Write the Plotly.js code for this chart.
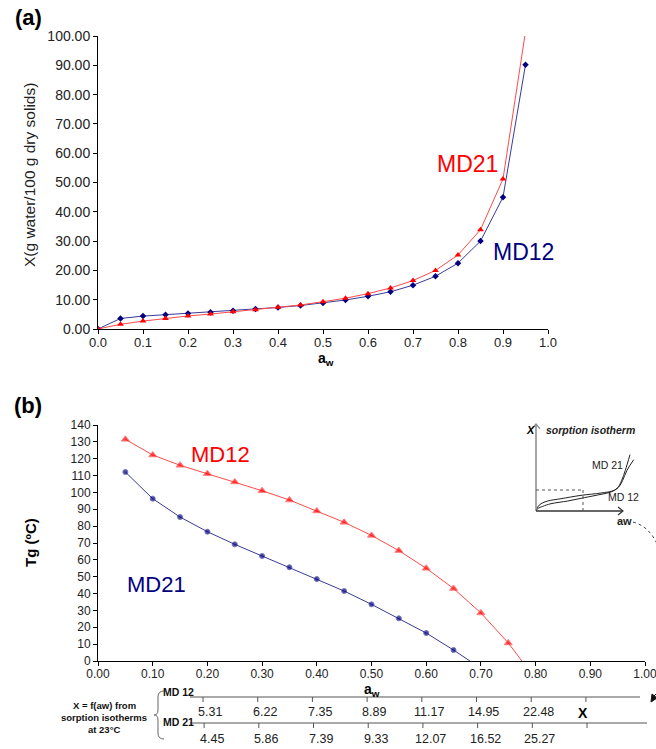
<!DOCTYPE html>
<html>
<head>
<meta charset="utf-8">
<script src="https://cdn.plot.ly/plotly-3.0.1.min.js"></script>
<style>html,body{margin:0;padding:0;background:#fff;}#chart{width:656px;height:749px;}</style>
</head>
<body>
<div id="chart"></div>
<script>
// ---------- Panel (a): sorption isotherms ----------
const awA = [0,0.05,0.10,0.15,0.20,0.25,0.30,0.35,0.40,0.45,0.50,0.55,0.60,0.65,0.70,0.75,0.80,0.85,0.90,0.95];
const xMD12 = [0,3.6,4.4,4.9,5.31,5.7,6.22,6.8,7.35,8.0,8.89,9.9,11.17,12.7,14.95,18.0,22.48,30.0,45.0,90.2];
const xMD21 = [0,1.6,2.7,3.6,4.45,5.1,5.86,6.6,7.39,8.2,9.33,10.5,12.07,14.0,16.52,20.0,25.27,33.9,51.2,101.5];
const xTicksA = [0,10,20,30,40,50,60,70,80,90,100];
const awTicksA = [0,0.1,0.2,0.3,0.4,0.5,0.6,0.7,0.8,0.9,1.0];

// ---------- Panel (b): glass transition ----------
const awB12 = [0.05,0.10,0.15,0.20,0.25,0.30,0.35,0.40,0.45,0.50,0.55,0.60,0.65,0.70,0.75,0.775];
const tgMD12 = [131.5,122.2,116.1,111.1,106.2,101.0,95.5,89.0,82.3,74.5,65.5,55.0,43.0,28.5,10.7,0];
const awB21 = [0.05,0.10,0.15,0.20,0.25,0.30,0.35,0.40,0.45,0.50,0.55,0.60,0.65,0.68];
const tgMD21 = [112.1,96.3,85.4,76.7,69.2,62.3,55.6,48.6,41.5,33.6,25.3,16.6,6.5,0];
const awTicksB = [0,0.1,0.2,0.3,0.4,0.5,0.6,0.7,0.8,0.9,1.0];
const tgTicksB = [0,10,20,30,40,50,60,70,80,90,100,110,120,130,140];

// ---------- Table under panel (b) ----------
const tableAw = [0.2,0.3,0.4,0.5,0.6,0.7,0.8];
const tableTickAw = [0.2,0.3,0.4,0.5,0.6,0.7,0.8,0.9];
const tableMD12 = ["5.31","6.22","7.35","8.89","11.17","14.95","22.48"];
const tableMD21 = ["4.45","5.86","7.39","9.33","12.07","16.52","25.27"];

// ---------- Inset schematic (inset units) ----------
const insetX12 = [0,0.017,0.05,0.117,0.25,0.45,0.65,0.783,0.833,0.867,0.91,0.977];
const insetY12 = [0,0.047,0.085,0.116,0.143,0.182,0.209,0.24,0.287,0.357,0.473,0.597];
const insetX21 = [0,0.017,0.067,0.15,0.317,0.483,0.65,0.75,0.817,0.857,0.893,0.94];
const insetY21 = [0,0.027,0.054,0.085,0.116,0.155,0.194,0.221,0.271,0.357,0.473,0.655];

const W = 656, H = 749;
const FONT = "Liberation Sans, Arial, sans-serif";
const px = x => x / W;
const py = y => 1 - y / H;

const NAVY = "#000080", NAVYL = "#3a3a9a", RED = "#ff0000", REDL = "#ff4a4a";

const traces = [
  {x: awA, y: xMD12, type: "scatter", mode: "lines+markers", xaxis: "x", yaxis: "y",
   line: {color: NAVYL, width: 1}, marker: {symbol: "diamond", size: 5, color: NAVY}, cliponaxis: true},
  {x: awA, y: xMD21, type: "scatter", mode: "lines+markers", xaxis: "x", yaxis: "y",
   line: {color: REDL, width: 1}, marker: {symbol: "triangle-up", size: 6, color: RED}, cliponaxis: true},
  {x: awB12, y: tgMD12, type: "scatter", mode: "lines+markers", xaxis: "x2", yaxis: "y2",
   line: {color: REDL, width: 1}, marker: {symbol: "triangle-up", size: awB12.map((v,i)=> i===awB12.length-1?0:7), color: RED}},
  {x: awB21, y: tgMD21, type: "scatter", mode: "lines+markers", xaxis: "x2", yaxis: "y2",
   line: {color: NAVYL, width: 1}, marker: {symbol: "circle", size: awB21.map((v,i)=> i===awB21.length-1?0:5), color: NAVY}},
  {x: insetX12, y: insetY12, type: "scatter", mode: "lines", xaxis: "x3", yaxis: "y3",
   line: {color: "#222", width: 1, shape: "spline"}},
  {x: insetX21, y: insetY21, type: "scatter", mode: "lines", xaxis: "x3", yaxis: "y3",
   line: {color: "#222", width: 1, shape: "spline"}}
];

const axCommon = {showline: true, linecolor: "#000", linewidth: 1, ticks: "outside", ticklen: 4,
  tickcolor: "#000", showgrid: false, zeroline: false, ticklabeloverflow: "allow",
  tickfont: {family: FONT, color: "#222"}};

const ann = [];
function A(text, x, y, o) {
  ann.push(Object.assign({text: text, x: px(x), y: py(y), xref: "paper", yref: "paper",
    showarrow: false, xanchor: "center", yanchor: "middle",
    font: {family: FONT, size: 12, color: "#000"}}, o || {}));
}
A("<b>(a)</b>", 28, 18, {font: {family: FONT, size: 22, color: "#000"}});
A("<b>(b)</b>", 28, 405, {font: {family: FONT, size: 22, color: "#000"}});
A("X(g water/100 g dry solids)", 29, 175, {textangle: -90, font: {family: FONT, size: 15.5, color: "#222"}});
A("<b>a<sub>w</sub></b>", 326, 359, {font: {family: FONT, size: 14, color: "#000"}});
A("MD21", 467, 164, {font: {family: FONT, size: 23, color: RED}});
A("MD12", 523, 252, {font: {family: FONT, size: 23, color: NAVY}});

A("<b>Tg (ºC)</b>", 30, 543, {textangle: -90, font: {family: FONT, size: 15, color: "#000"}});
A("<b>a<sub>w</sub></b>", 372, 690, {font: {family: FONT, size: 14, color: "#000"}});
A("MD12", 220, 454, {font: {family: FONT, size: 22, color: RED}});
A("MD21", 156, 584, {font: {family: FONT, size: 22, color: NAVY}});

// inset texts
A("<b><i>X</i></b>", 530, 430, {font: {family: FONT, size: 11, color: "#000"}});
A("<b><i>sorption isotherm</i></b>", 590, 430, {font: {family: FONT, size: 10.5, color: "#222"}});
A("MD 21", 607, 465, {font: {family: FONT, size: 10.5, color: "#222"}});
A("MD 12", 623, 497, {font: {family: FONT, size: 10.5, color: "#222"}});
A("<b>aw</b>", 624, 521, {font: {family: FONT, size: 11, color: "#222"}});

// table left texts
A("<b>X = f(aw) from</b>", 104, 705, {font: {family: FONT, size: 9.5, color: "#111"}});
A("<b>sorption isotherms</b>", 104, 717, {font: {family: FONT, size: 9.5, color: "#111"}});
A("<b>at 23°C</b>", 104, 729, {font: {family: FONT, size: 9.5, color: "#111"}});
A("<b>MD 12</b>", 178, 692, {font: {family: FONT, size: 10.5, color: "#111"}});
A("<b>MD 21</b>", 178, 722, {font: {family: FONT, size: 10.5, color: "#111"}});
A("<b>X</b>", 583, 713, {font: {family: FONT, size: 14, color: "#000"}});

// table values positioned on the aw axis of panel (b)
tableAw.forEach((a, i) => {
  ann.push({text: tableMD12[i], x: a + 0.005, y: py(712), xref: "x2", yref: "paper", showarrow: false,
    xanchor: "center", yanchor: "middle", font: {family: FONT, size: 12.5, color: "#222"}});
  ann.push({text: tableMD21[i], x: a + 0.008, y: py(739), xref: "x2", yref: "paper", showarrow: false,
    xanchor: "center", yanchor: "middle", font: {family: FONT, size: 12.5, color: "#222"}});
});

const shapes = [];
function L(x0, y0, x1, y1, o) {
  shapes.push(Object.assign({type: "line", xref: "paper", yref: "paper",
    x0: px(x0), y0: py(y0), x1: px(x1), y1: py(y1), line: {color: "#333", width: 1}}, o || {}));
}
function P(pts, o) {
  const d = pts.map(p => (typeof p === "string" ? p : (p[0] / W).toFixed(5) + "," + (1 - p[1] / H).toFixed(5))).join(" ");
  shapes.push(Object.assign({type: "path", xref: "paper", yref: "paper", path: d,
    line: {color: "#333", width: 1}}, o || {}));
}
// table lines
L(190, 697, 640, 697, {line: {color: "#555", width: 1}});
L(190, 723, 647, 723, {line: {color: "#555", width: 1}});
tableTickAw.forEach(a => {
  shapes.push({type: "line", xref: "x2", yref: "paper", x0: a - 0.008, x1: a - 0.008, y0: py(697), y1: py(702), line: {color: "#555", width: 1}});
  shapes.push({type: "line", xref: "x2", yref: "paper", x0: a - 0.006, x1: a - 0.006, y0: py(723), y1: py(728), line: {color: "#555", width: 1}});
});
// brace
P(["M", [164, 691], "Q", [158, 691], [158, 697], "L", [158, 710], "Q", [158, 715], [154, 715],
   "Q", [158, 715], [158, 720], "L", [158, 733], "Q", [158, 739], [164, 739]], {line: {color: "#666", width: 1}});
// arrowhead at right end of table (pointing down-left)
P(["M", [651, 702], "L", [652, 694], "L", [657, 698], "Z"], {line: {color: "#111", width: 1}, fillcolor: "#111"});
L(654, 696, 660, 690, {line: {color: "#111", width: 1}});

// inset axes
L(536, 511, 536, 424, {line: {color: "#888", width: 1.5}});
L(536, 511, 623, 511, {line: {color: "#333", width: 1.5}});
P(["M", [532, 429], "L", [536, 424], "L", [540, 429]], {line: {color: "#888", width: 1.2}});
P(["M", [618, 507], "L", [623, 511], "L", [618, 515]], {line: {color: "#333", width: 1.2}});
// inset dashed guides
L(536, 490, 583, 490, {line: {color: "#555", width: 1, dash: "dot"}});
L(583, 490, 583, 511, {line: {color: "#555", width: 1, dash: "dot"}});
// dashed arc from inset towards table
P(["M", [633, 522], "C", [645, 525], [655, 535], [660, 552]], {line: {color: "#444", width: 1, dash: "dot"}});

const layout = {
  width: W, height: H,
  margin: {l: 0, r: 0, t: 0, b: 0},
  paper_bgcolor: "#fff", plot_bgcolor: "rgba(0,0,0,0)",
  showlegend: false,
  font: {family: FONT},
  xaxis: Object.assign({}, axCommon, {domain: [px(98), px(548)], anchor: "y", range: [0, 1],
    tickvals: awTicksA, tickformat: ".1f", ticklabelstandoff: -3,
    tickfont: {family: FONT, size: 13, color: "#222"}}),
  yaxis: Object.assign({}, axCommon, {domain: [py(329), py(36)], anchor: "x", range: [0, 100],
    tickvals: xTicksA, tickformat: ".2f", tickfont: {family: FONT, size: 14, color: "#222"}}),
  xaxis2: Object.assign({}, axCommon, {domain: [px(98), px(645)], anchor: "y2", range: [0, 1],
    tickvals: awTicksB, tickformat: ".2f", ticklabelstandoff: -2,
    tickfont: {family: FONT, size: 12, color: "#222"}}),
  yaxis2: Object.assign({}, axCommon, {domain: [py(661), py(425)], anchor: "x2", range: [0, 140],
    tickvals: tgTicksB, tickfont: {family: FONT, size: 12, color: "#222"}}),
  xaxis3: {domain: [px(536), px(636)], anchor: "y3", range: [0, 1], visible: false, fixedrange: true},
  yaxis3: {domain: [py(511), py(425)], anchor: "x3", range: [0, 1], visible: false, fixedrange: true},
  annotations: ann,
  shapes: shapes
};

Plotly.newPlot("chart", traces, layout, {displayModeBar: false, staticPlot: true});
</script>
</body>
</html>
